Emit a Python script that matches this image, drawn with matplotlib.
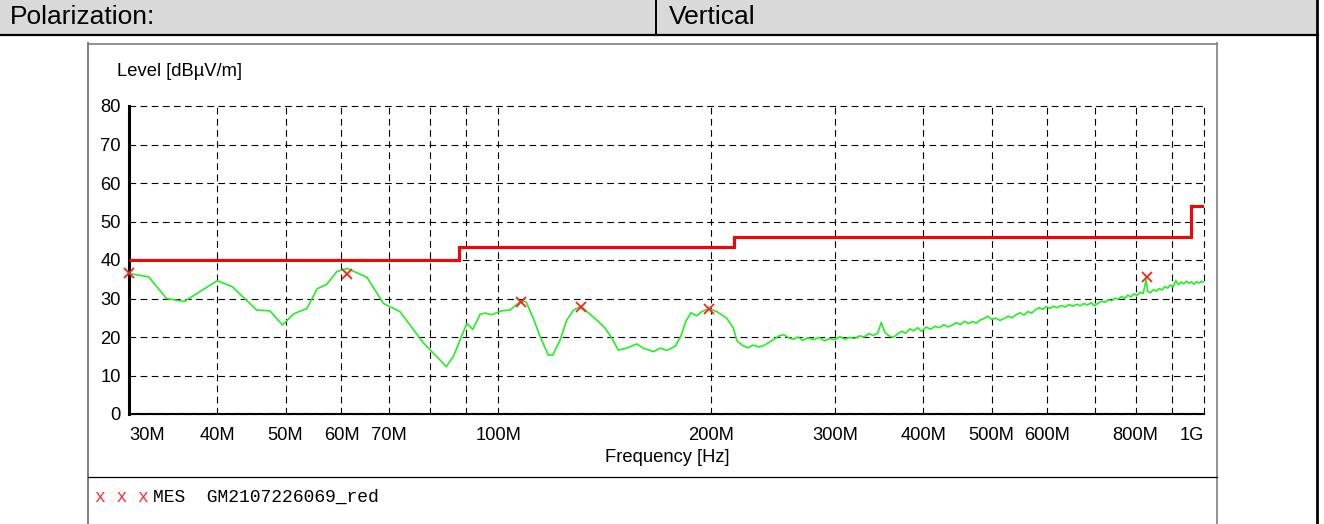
import matplotlib
matplotlib.use("Agg")
import matplotlib.pyplot as plt
from matplotlib.patches import Rectangle

# measured trace (MHz, dBuV/m)
trace_freq = [30, 32, 33.9, 35.9, 40, 42, 45.5, 47.5, 49.5, 51.3, 53.6, 55.4, 57.2, 59.1, 61.1,
              65.2, 68.8, 72.6, 78.4, 81.9, 84.4, 86.4, 90.3, 92.1, 94.3, 95.9, 98, 101.2, 104,
              107.4, 109.5, 112.2, 114.7, 117.8, 119.5, 122.4, 125.1, 127.9, 131.1, 133.6, 138,
              141.8, 144.9, 148, 152.1, 157.2, 160.6, 166, 169.7, 173.5, 178.4, 181.4, 184.4,
              187.6, 191.1, 194.4, 198.8, 204, 210.8, 215.4,
              218, 222, 226, 230, 234, 238, 242, 246, 250, 254, 258, 262, 266, 270, 275, 280,
              285, 290, 295, 300, 305, 310, 315, 320, 325, 330, 335, 340, 345, 349, 353, 358,
              363, 368, 373, 378, 383, 388, 393, 398, 404, 410, 416, 422, 428, 434, 440, 446,
              452, 458, 464, 470, 476, 482, 488, 494, 500, 507, 514, 521, 528, 535, 542, 549,
              556, 563, 570, 577, 584, 591, 598, 605, 612, 620, 628, 636, 644, 652, 660, 668,
              676, 684, 692, 700, 708, 716, 724, 732, 740, 748, 756, 764, 772, 780, 788, 796,
              804, 812, 820, 828, 832, 840, 848, 856, 864, 872, 880, 888, 896, 904, 912, 920,
              928, 936, 944, 952, 960, 968, 976, 984, 992, 1000]
trace_level = [36.5, 35.6, 30.0, 29.2, 34.6, 33.1, 27.0, 26.8, 23.1, 26.0, 27.4, 32.5, 33.7, 37.0, 37.8,
               35.5, 28.7, 26.6, 18.4, 14.9, 12.3, 14.9, 23.5, 22.0, 25.9, 26.2, 25.8, 26.8, 27.0,
               29.2, 29.2, 24.8, 20.1, 15.3, 15.3, 19.2, 24.4, 27.0, 28.0, 26.6, 24.4,
               22.3, 19.7, 16.6, 17.1, 18.2, 17.1, 16.2, 17.1, 16.5, 17.7, 20.1, 24.0,
               26.3, 25.5, 26.6, 27.4, 26.6, 24.9, 22.3,
               19.0, 17.8, 17.2, 17.9, 17.4, 17.8, 18.6, 19.4, 20.3, 20.6, 19.8, 19.4, 20.0, 19.1, 19.8, 19.3,
               19.9, 19.0, 19.6, 19.3, 20.1, 19.4, 19.9, 19.6, 20.3, 20.0, 20.9, 20.4, 21.0, 23.8, 21.2, 20.3,
               19.9, 20.8, 21.5, 21.0, 22.1, 21.6, 22.4, 21.5, 22.6, 22.0, 22.8, 22.4, 23.2, 22.6, 23.1, 23.7,
               23.2, 24.1, 23.5, 24.0, 23.6, 24.4, 24.8, 25.4, 24.6, 24.9, 24.3, 24.8, 25.4, 25.0, 25.8, 26.3,
               25.7, 26.6, 26.2, 27.1, 27.6, 27.2, 27.9, 27.4, 28.0, 27.6, 28.2, 27.8, 28.4, 28.0, 28.5, 28.1,
               28.7, 28.3, 28.9, 28.1, 28.8, 29.3, 29.0, 29.7, 29.4, 30.1, 29.8, 30.5, 30.0, 30.9, 30.4, 31.2,
               30.8, 31.6, 31.3, 34.9, 31.8, 31.5, 32.3, 31.9, 32.6, 32.2, 33.1, 32.7, 33.5, 33.0, 34.7, 33.6,
               34.3, 33.8, 34.5, 34.0, 34.3, 33.7, 34.4, 34.0, 34.5, 34.1]

# limit line
limit_edges = [30, 88, 216, 960, 1000]
limit_values = [40, 43.5, 46, 54]

# final measurement points
peak_freq = [30.0, 61.1, 107.8, 131.1, 198.8, 830]
peak_level = [36.6, 36.4, 29.1, 27.9, 27.2, 35.7]

grid_freq = [30, 40, 50, 60, 70, 80, 90, 100, 200, 300, 400, 500, 600, 700, 800, 900, 1000]
grid_labels = ["30M", "40M", "50M", "60M", "70M", "", "", "100M", "200M", "300M", "400M",
               "500M", "600M", "", "800M", "", "1G"]
y_ticks = [0, 10, 20, 30, 40, 50, 60, 70, 80]

plt.rcParams['font.family'] = ['Liberation Sans', 'DejaVu Sans']

W, H = 1324, 524
fig = plt.figure(figsize=(W / 100, H / 100), dpi=100)

# page frame drawn in pixel coordinates
bg = fig.add_axes([0, 0, 1, 1])
bg.set_xlim(0, W)
bg.set_ylim(H, 0)
bg.axis('off')
bg.add_patch(Rectangle((0, 0), 1317, 34, facecolor='#d9d9d9', edgecolor='none'))
bg.plot([0, 1318], [34.5, 34.5], color='black', lw=1.6)
bg.plot([656, 656], [0, 34], color='black', lw=1.4)
bg.plot([1317, 1317], [0, H], color='black', lw=2.0)
bg.plot([88, 88], [43, H], color='#7f7f7f', lw=1.4)
bg.plot([88, 1217], [43.5, 43.5], color='#7f7f7f', lw=1.2)
bg.plot([1217, 1217], [43, H], color='#7f7f7f', lw=1.2)
bg.plot([88, 1217], [477, 477], color='black', lw=0.9)
bg.text(10, 17, "Polarization:", fontsize=19, va='center')
bg.text(669, 17, "Vertical", fontsize=19, va='center')
bg.text(117, 71, "Level [dBµV/m]", fontsize=13.2, va='center')
bg.text(667, 457, "Frequency [Hz]", fontsize=13.2, va='center', ha='center')
bg.text(95, 497, "x x x", fontsize=13, va='center', color='#ff3030', family='Liberation Mono')
bg.text(153, 497, "MES  GM2107226069_red", fontsize=13, va='center', family='Liberation Mono')

ax = fig.add_axes([129 / W, 1 - 414 / H, (1204 - 129) / W, (414 - 106) / H])
ax.set_xscale('log')
ax.plot([f * 1e6 for f in trace_freq], trace_level, color='#22f022', lw=1.2, zorder=3)
ax.stairs(limit_values, [e * 1e6 for e in limit_edges], baseline=None, color='#ff0000', lw=2.2, zorder=4)
ax.plot([f * 1e6 for f in peak_freq], peak_level, 'x', color='#ff2020', ms=7, mew=1.3,
        zorder=5, clip_on=False)

ax.set_xlim(30e6, 1e9)
ax.set_ylim(0, 80)
ax.set_xticks([f * 1e6 for f in grid_freq])
ax.set_xticklabels(grid_labels)
ax.minorticks_off()
ax.set_yticks(y_ticks)
ax.tick_params(length=0, labelsize=13.2)
ax.tick_params(axis='x', pad=9)
ax.tick_params(axis='y', pad=6)
labels = ax.get_xticklabels()
labels[0].set_ha('left')
labels[-1].set_ha('right')
ax.grid(True, color='black', lw=0.8, dashes=(6, 4))
for gl in ax.get_xgridlines() + ax.get_ygridlines():
    gl.set_clip_on(False)
for s in ['top', 'right']:
    ax.spines[s].set_visible(False)
ax.spines['left'].set_linewidth(2.2)
ax.spines['bottom'].set_linewidth(1.5)
ax.set_facecolor('none')

fig.savefig("out.png", dpi=100)
